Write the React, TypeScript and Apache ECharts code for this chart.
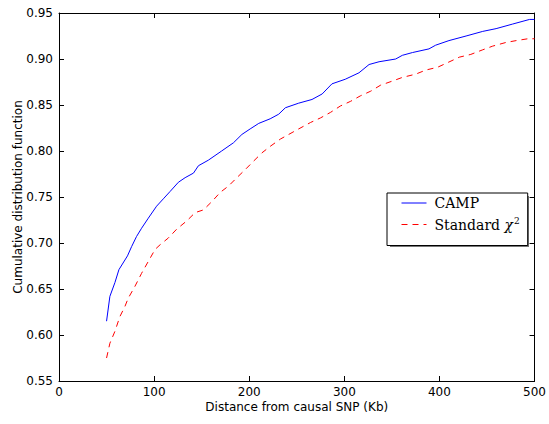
import React, { useEffect, useRef } from "react";
import * as echarts from "echarts";

const campX = [50, 53.5, 58.8, 63, 72, 76.3, 81.5, 86.8, 93.9, 102.6, 109.7, 116.8, 125.5, 132.6, 141.4, 146.6, 157, 171, 183.5, 192.3, 201, 210, 222, 231, 238, 252, 266, 276.7, 287, 301, 315.4, 326, 336.5, 354, 361, 371.6, 389, 396, 410, 428, 445.5, 459.6, 477, 494.7, 500];
const campY = [0.615, 0.642, 0.657, 0.671, 0.686, 0.696, 0.707, 0.716, 0.727, 0.740, 0.748, 0.756, 0.766, 0.771, 0.776, 0.784, 0.790, 0.800, 0.809, 0.818, 0.824, 0.830, 0.835, 0.840, 0.847, 0.852, 0.856, 0.862, 0.873, 0.878, 0.885, 0.894, 0.897, 0.900, 0.904, 0.907, 0.911, 0.915, 0.920, 0.925, 0.930, 0.933, 0.938, 0.943, 0.943];

const stdX = [50, 53.5, 58.8, 64, 69.3, 72.8, 79.9, 86.8, 93.9, 101, 106.2, 115, 123.7, 134.3, 143.1, 151.9, 160.7, 169.5, 178.3, 187, 196, 204.6, 213.4, 222, 232.8, 245, 252, 264.5, 275, 285.5, 296, 306.6, 317, 327.7, 338, 350.5, 361, 375, 385.7, 398, 408.5, 420.9, 433, 445.5, 456, 470, 480.7, 493, 500];
const stdY = [0.575, 0.591, 0.604, 0.620, 0.631, 0.640, 0.653, 0.667, 0.680, 0.693, 0.698, 0.7055, 0.715, 0.724, 0.733, 0.736, 0.745, 0.755, 0.762, 0.771, 0.780, 0.789, 0.798, 0.805, 0.813, 0.820, 0.824, 0.831, 0.836, 0.842, 0.849, 0.854, 0.860, 0.865, 0.8715, 0.876, 0.880, 0.8835, 0.888, 0.891, 0.896, 0.902, 0.905, 0.910, 0.914, 0.918, 0.920, 0.922, 0.922];

const seriesNames = ["CAMP", "Standard χ2"];
const xTitle = "Distance from causal SNP (Kb)";
const yTitle = "Cumulative distribution function";

const sans = "DejaVu Sans";
const serif = "DejaVu Serif";

export default function App() {
  const ref = useRef<HTMLDivElement>(null);
  useEffect(() => {
    const chart = echarts.init(ref.current!, null, { renderer: "svg" });
    const tick = { show: true, inside: true, length: 5, lineStyle: { color: "#000", width: 1 } };
    const line = { show: true, onZero: false, lineStyle: { color: "#000", width: 1 } };
    chart.setOption({
      animation: false,
      backgroundColor: "#fff",
      grid: { left: 59, right: 14, top: 13, bottom: 43 },
      xAxis: [
        {
          type: "value", min: 0, max: 500, interval: 100,
          axisLine: line, axisTick: tick, splitLine: { show: false },
          axisLabel: { fontFamily: sans, fontSize: 12, color: "#000", margin: 5 },
          name: xTitle, nameLocation: "middle", nameGap: 20, nameMoveOverlap: false,
          nameTextStyle: { fontFamily: sans, fontSize: 12, color: "#000" },
        },
        {
          type: "value", position: "top", min: 0, max: 500, interval: 100,
          axisLine: line, axisTick: tick, splitLine: { show: false }, axisLabel: { show: false },
        },
      ],
      yAxis: [
        {
          type: "value", min: 0.55, max: 0.95, interval: 0.05,
          axisLine: line, axisTick: tick, splitLine: { show: false },
          axisLabel: { fontFamily: sans, fontSize: 12, color: "#000", margin: 6, formatter: (v: number) => v.toFixed(2) },
          name: yTitle, nameLocation: "middle", nameGap: 35, nameMoveOverlap: false,
          nameTextStyle: { fontFamily: sans, fontSize: 12, color: "#000" },
        },
        {
          type: "value", position: "right", min: 0.55, max: 0.95, interval: 0.05,
          axisLine: line, axisTick: tick, splitLine: { show: false }, axisLabel: { show: false },
        },
      ],
      legend: {
        left: 387, top: 193, orient: "vertical", z: 10,
        padding: [3, 8, 14, 14], itemGap: 6, itemWidth: 25, itemHeight: 14,
        backgroundColor: "#fff", borderColor: "#000", borderWidth: 1, borderRadius: 0,
        itemStyle: { opacity: 0 },
        lineStyle: { width: 1 },
        data: seriesNames,
        formatter: (name: string) => (name === "CAMP" ? "{p|CAMP}" : "{p|Standard }{c|χ}{s|2}"),
        textStyle: {
          fontFamily: serif, fontSize: 14, color: "#000",
          rich: {
            p: { fontFamily: serif, fontSize: 14, color: "#000", padding: [0, 0, 0, 3] },
            c: { fontFamily: serif, fontSize: 14, color: "#000", fontStyle: "italic" },
            s: { fontFamily: serif, fontSize: 9, color: "#000", padding: [0, 0, 8, 1] },
          },
        },
      },
      graphic: [
        {
          type: "rect", left: 390, top: 196, z: 1,
          shape: { x: 0, y: 0, width: 139, height: 51 },
          style: { fill: "#777" },
        },
      ],
      series: [
        {
          name: seriesNames[0], type: "line", symbol: "none", showSymbol: false,
          lineStyle: { color: "#0000ff", width: 1 }, itemStyle: { color: "#0000ff" },
          data: campX.map((x, i) => [x, campY[i]]),
        },
        {
          name: seriesNames[1], type: "line", symbol: "none", showSymbol: false,
          lineStyle: { color: "#ff0000", width: 1, type: [6, 5] }, itemStyle: { color: "#ff0000" },
          data: stdX.map((x, i) => [x, stdY[i]]),
        },
      ],
    });
    return () => chart.dispose();
  }, []);
  return <div ref={ref} style={{ position: "absolute", left: 0, top: 0, width: 549, height: 424 }} />;
}
